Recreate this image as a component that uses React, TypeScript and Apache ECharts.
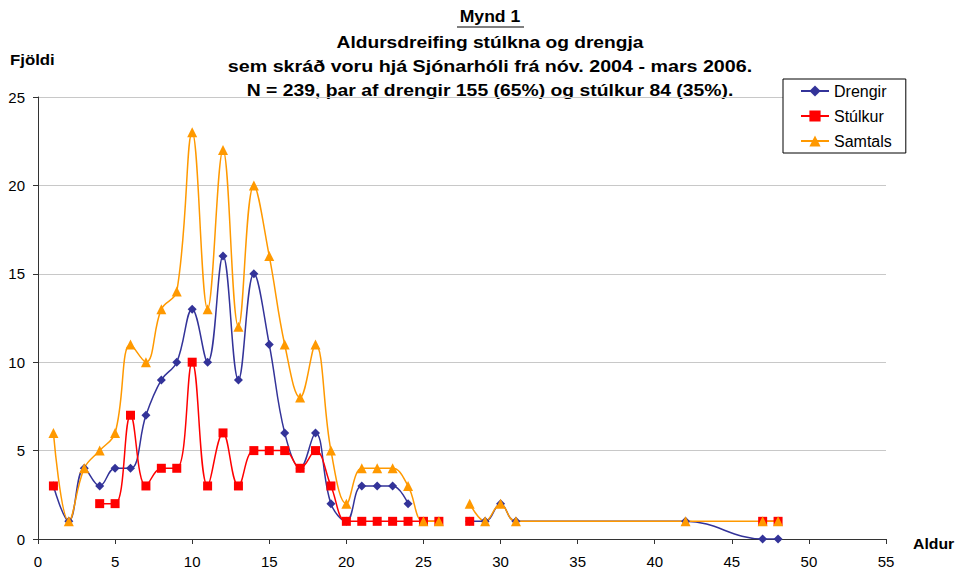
import React, { useEffect, useRef } from "react";
import * as echarts from "echarts";

const ages = [1,2,3,4,5,6,7,8,9,10,11,12,13,14,15,16,17,18,19,20,21,22,23,24,25,26,27,28,29,30,31,42,47,48];
const drengir = [3,1,4,3,4,4,7,9,10,13,10,16,9,15,11,6,4,6,2,1,3,3,3,2,null,null,null,1,1,2,1,1,0,0];
const stulkur = [3,null,null,2,2,7,3,4,4,10,3,6,3,5,5,5,4,5,3,1,1,1,1,1,1,1,null,1,null,null,null,null,1,1];
const samtals = [6,1,4,5,6,11,10,13,14,23,13,22,12,20,16,11,8,11,5,2,4,4,4,3,1,1,null,2,1,2,1,1,1,1];

const seriesNames = ["Drengir", "Stúlkur", "Samtals"];
const titleLines = [
  "Mynd 1",
  "Aldursdreifing stúlkna og drengja",
  "sem skráð voru hjá Sjónarhóli frá nóv. 2004 - mars 2006.",
  "N = 239, þar af drengir 155 (65%) og stúlkur 84 (35%).",
];

const FONT = "'Liberation Sans', Arial, sans-serif";

function pairs(vals: (number | null)[]) {
  return ages.map((a, i) => [a, vals[i] === null ? "-" : vals[i]]);
}

export default function App() {
  const ref = useRef<HTMLDivElement>(null);
  useEffect(() => {
    if (!ref.current) return;
    const chart = echarts.init(ref.current, null, { renderer: "svg" });
    const titleY = [17, 43, 67, 91];
    const titleScale = [1.1, 1.2, 1.23, 1.21];
    const mk = (name: string, vals: (number | null)[], color: string, symbol: string, size: number) => ({
      name,
      type: "line",
      data: pairs(vals),
      smooth: 0.4,
      connectNulls: false,
      symbol,
      symbolSize: size,
      showSymbol: true,
      showAllSymbol: true,
      lineStyle: { color, width: 1.5 },
      itemStyle: { color },
    });
    chart.setOption({
      animation: false,
      backgroundColor: "#ffffff",
      textStyle: { fontFamily: FONT },
      grid: { left: 38, right: 70, top: 97, bottom: 33, containLabel: false },
      xAxis: {
        type: "value",
        min: 0,
        max: 55,
        interval: 5,
        axisLine: { show: true, lineStyle: { color: "#333333", width: 1 } },
        axisTick: { show: true, length: 5, lineStyle: { color: "#333333" } },
        axisLabel: { color: "#000", fontSize: 15, margin: 15, fontFamily: FONT },
        splitLine: { show: false },
      },
      yAxis: {
        type: "value",
        min: 0,
        max: 25,
        interval: 5,
        axisLine: { show: true, lineStyle: { color: "#333333", width: 1 } },
        axisTick: { show: true, length: 5, lineStyle: { color: "#333333" } },
        axisLabel: { color: "#000", fontSize: 15, margin: 13, fontFamily: FONT },
        splitLine: { show: true, lineStyle: { color: "#c8c8c8", width: 1 } },
      },
      legend: {
        orient: "vertical",
        left: 783,
        top: 79,
        padding: [4, 14, 4, 17],
        itemGap: 9,
        itemWidth: 28,
        itemHeight: 14,
        backgroundColor: "#ffffff",
        borderColor: "#000000",
        borderWidth: 1,
        borderRadius: 0,
        textStyle: { fontSize: 16, color: "#000", fontFamily: FONT },
        data: seriesNames,
      },
      series: [
        mk(seriesNames[0], drengir, "#333399", "diamond", 9),
        mk(seriesNames[1], stulkur, "#ff0000", "rect", 9),
        mk(seriesNames[2], samtals, "#ff9900", "triangle", 10),
      ],
      graphic: [
        ...titleLines.map((t, i) => ({
          type: "text",
          x: 490,
          y: titleY[i],
          scaleX: titleScale[i],
          style: {
            text: t,
            x: 0,
            y: 0,
            align: "center",
            verticalAlign: "middle",
            font: `bold 16px ${FONT}`,
            fill: "#000",
          },
        })),
        {
          type: "line",
          shape: { x1: 457, y1: 27, x2: 524, y2: 27 },
          style: { stroke: "#000", lineWidth: 1.2 },
        },
        {
          type: "text",
          x: 10,
          y: 60,
          scaleX: 1.2,
          style: { text: "Fjöldi", align: "left", verticalAlign: "middle", font: `bold 14px ${FONT}`, fill: "#000" },
        },
        {
          type: "text",
          x: 913,
          y: 544,
          scaleX: 1.13,
          style: { text: "Aldur", align: "left", verticalAlign: "middle", font: `bold 14px ${FONT}`, fill: "#000" },
        },
      ],
    });
    return () => chart.dispose();
  }, []);
  return <div ref={ref} style={{ width: 956, height: 572, position: "absolute", left: 0, top: 0 }} />;
}
